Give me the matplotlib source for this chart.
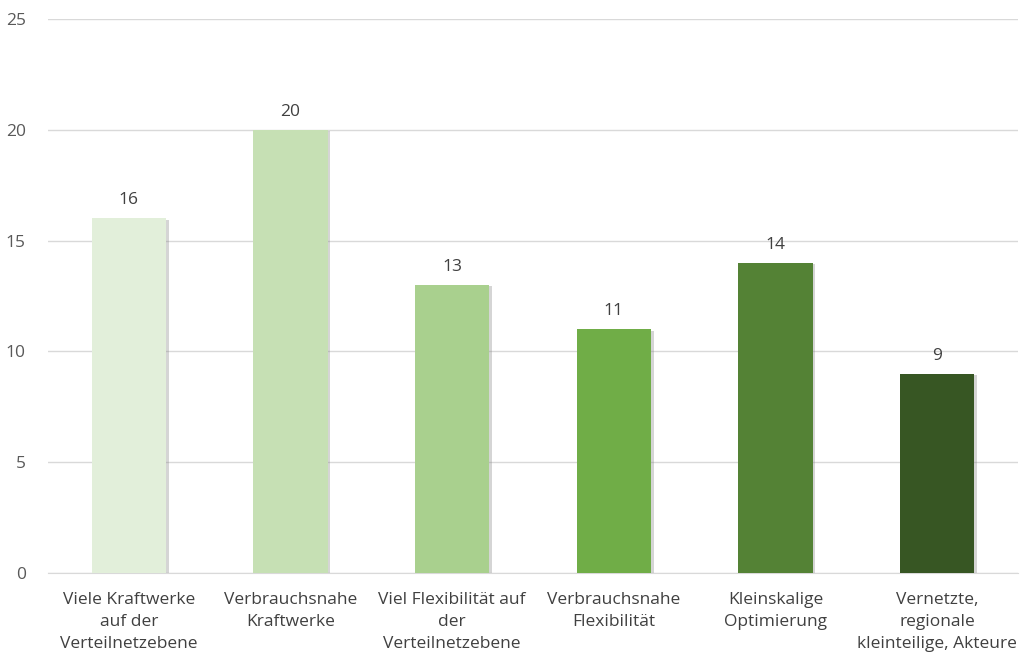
import matplotlib
matplotlib.use("Agg")
import matplotlib.pyplot as plt
import matplotlib.patheffects as pe
from matplotlib import font_manager

categories = [
    "Viele Kraftwerke\nauf der\nVerteilnetzebene",
    "Verbrauchsnahe\nKraftwerke",
    "Viel Flexibilität auf\nder\nVerteilnetzebene",
    "Verbrauchsnahe\nFlexibilität",
    "Kleinskalige\nOptimierung",
    "Vernetzte,\nregionale\nkleinteilige, Akteure",
]
values = [16, 20, 13, 11, 14, 9]
colors = ["#E2EFDA", "#C6E0B4", "#A9D08E", "#70AD47", "#548235", "#375623"]
yticks = [0, 5, 10, 15, 20, 25]

names = {f.name for f in font_manager.fontManager.ttflist}
fam = "Liberation Sans Narrow" if "Liberation Sans Narrow" in names else "Open Sans"
plt.rcParams["font.family"] = [fam, "DejaVu Sans"]

fig = plt.figure(figsize=(10.21, 6.57), dpi=100)
ax = fig.add_axes([48 / 1021, 1 - 573 / 657, (1018 - 48) / 1021, (573 - 19) / 657])

x = list(range(len(values)))
bars = ax.bar(x, values, width=0.46, color=colors, zorder=3)
for b in bars:
    b.set_path_effects([pe.SimplePatchShadow(offset=(2, -1), shadow_rgbFace="#888888", alpha=0.35), pe.Normal()])

for xi, v in zip(x, values):
    ax.text(xi, v + 0.45, str(v), ha="center", va="bottom", fontsize=12.5, color="#404040")

ax.set_xlim(-0.5, len(values) - 0.5)
ax.set_ylim(0, 25)
ax.set_yticks(yticks)
ax.set_yticklabels([str(t) for t in yticks], fontsize=12.5, color="#595959")
ax.set_xticks(x)
ax.set_xticklabels(categories, fontsize=12.5, color="#404040", linespacing=1.5)
ax.tick_params(axis="both", length=0)
ax.tick_params(axis="y", pad=16)
ax.tick_params(axis="x", pad=14)
ax.grid(axis="y", color="#D9D9D9", linewidth=1, zorder=0)
for s in ["top", "right", "left"]:
    ax.spines[s].set_visible(False)
ax.spines["bottom"].set_color("#D9D9D9")

fig.savefig("out.png", dpi=100)
